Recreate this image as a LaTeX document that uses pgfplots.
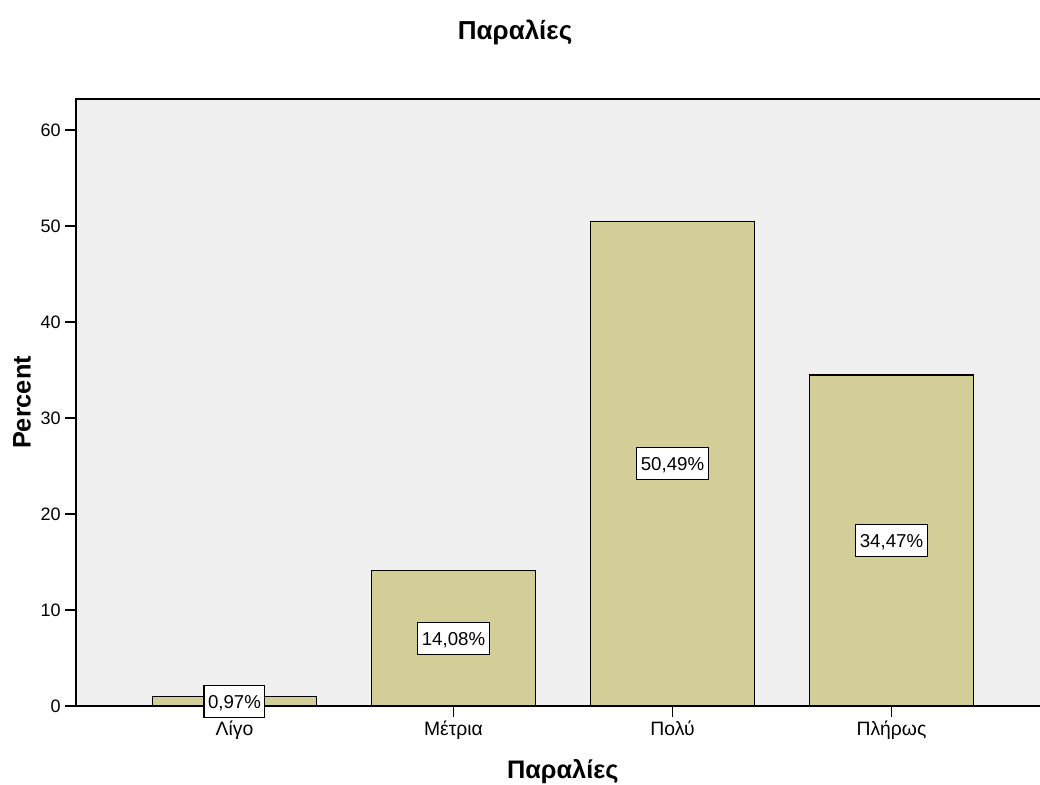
\documentclass[border=0pt]{standalone}
\usepackage{fontspec}
\setmainfont{Liberation Sans}
\usepackage{pgfplots}
\pgfplotsset{compat=1.18}
\definecolor{bgc}{RGB}{240,240,240}
\definecolor{barc}{RGB}{211,206,151}
\begin{document}
\begin{tikzpicture}
\begin{axis}[
 scale only axis, width=723pt, height=455.25pt,
 xmin=-0.7237, xmax=3.678, ymin=0, ymax=63.23,
 axis background/.style={fill=bgc},
 axis line style={draw=none},
 xtick={0,1,2,3}, xticklabels={Λίγο,Μέτρια,Πολύ,Πλήρως},
 ytick={0,10,...,60},
 tick align=outside, xtick pos=bottom, ytick pos=left,
 major tick length=8pt,
 ytick style={black, line width=1.5pt},
 xtick style={black, line width=1.2pt},
 yticklabel style={font=\fontsize{13.5}{16}\selectfont},
 xticklabel style={font=\fontsize{14.5}{17}\selectfont},
 /pgf/number format/assume math mode=true,
 ylabel={Percent}, xlabel={Παραλίες},
 every axis y label/.style={at={(rel axis cs:-0.056,0.5)}, anchor=center, rotate=90, font=\bfseries\fontsize{19}{22}\selectfont},
 every axis x label/.style={at={(rel axis cs:0.505,-0.1087)}, anchor=center, font=\bfseries\fontsize{19}{22}\selectfont},
 title={Παραλίες},
 title style={at={(rel axis cs:0.4555,1.0972)}, anchor=center, font=\bfseries\fontsize{19.5}{22}\selectfont},
 clip=false,
]
\addplot[ybar, bar width=0.75, fill=barc, draw=black, line width=0.9pt,
   point meta=explicit symbolic,
   visualization depends on={y \as \rawy},
   nodes near coords,
   every node near coord/.append style={anchor=center, yshift=-3.6pt*\rawy, fill=white, draw=black, line width=0.8pt, inner xsep=3pt, inner ysep=7.2pt, text height=10pt, text depth=0pt, font=\fontsize{14}{16}\selectfont, text=black}]
 coordinates {(0,0.97) [0,97\%] (1,14.08) [14,08\%] (2,50.49) [50,49\%] (3,34.47) [34,47\%]};
\draw[line width=1.5pt] (rel axis cs:0,0) -- (rel axis cs:0,1) -- (rel axis cs:1,1);
\draw[line width=1.5pt] (rel axis cs:0,0) -- (rel axis cs:1,0);
\end{axis}
\pgfresetboundingbox
\path (-57pt,-59.25pt) rectangle (723pt,529.5pt);
\end{tikzpicture}
\end{document}
